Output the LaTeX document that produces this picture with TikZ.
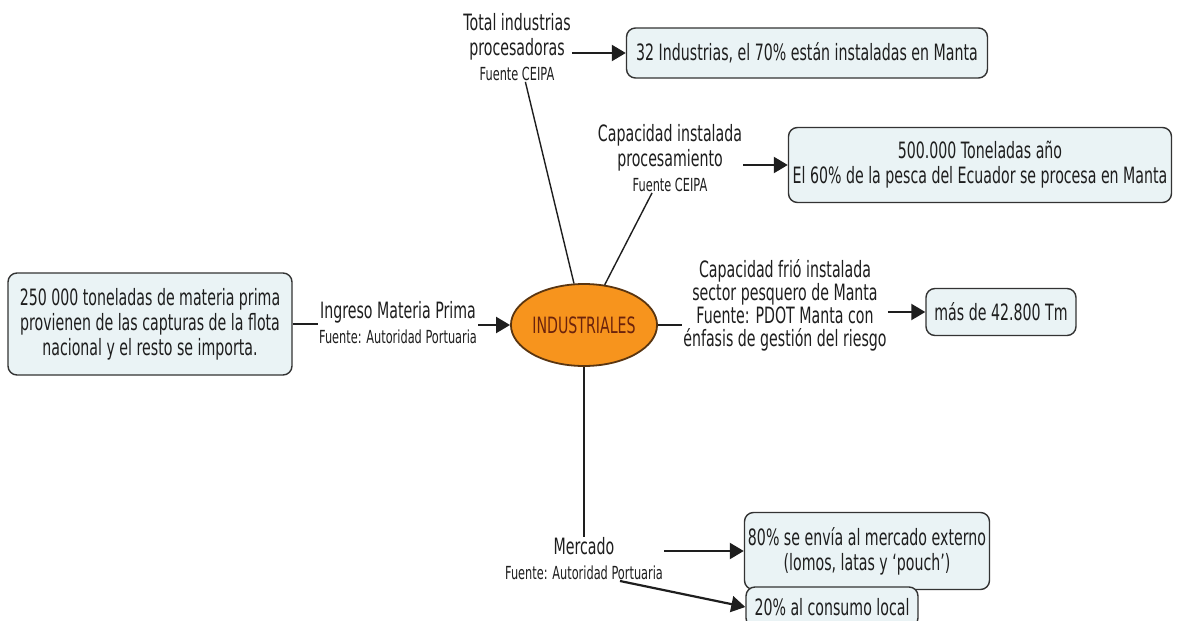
\documentclass[tikz,border=0pt]{standalone}
\usepackage{fontspec}
\setmainfont{DejaVu Sans}[FakeStretch=0.63]
\usetikzlibrary{arrows.meta,shapes.geometric}
\definecolor{boxfill}{HTML}{EAF3F5}
\definecolor{boxline}{HTML}{333333}
\definecolor{txt}{HTML}{1E1E1E}
\definecolor{orangefill}{HTML}{F7941D}
\definecolor{orangeline}{HTML}{5A3510}
\definecolor{indtxt}{HTML}{6B230C}
\newcommand\mainf{\fontsize{22.5}{25}\selectfont}
\newcommand\friof{\fontsize{22.5}{23}\selectfont}
\newcommand\smallf{\fontsize{18}{20}\selectfont}
\begin{document}
\begin{tikzpicture}[x=1pt,y=-1pt,
  box/.style={draw=boxline,line width=1.4pt,fill=boxfill,rounded corners=9pt,
    align=center,font=\mainf,text=txt,inner sep=0pt},
  lbl/.style={align=center,font=\mainf,inner sep=1pt,text=txt},
  con/.style={line width=1.4pt,draw=txt},
  arr/.style={line width=2.2pt,draw=txt,-{Triangle[length=14pt,width=16pt]}}]
\useasboundingbox (0,0) rectangle (1179,621);
\fill[white] (0,0) rectangle (1179,621);

% central concept
\node[ellipse,draw=orangeline,line width=1.8pt,fill=orangefill,
  minimum width=126pt,minimum height=82pt,inner sep=0pt,
  font=\mainf,text=indtxt] (E) at (584,325) {INDUSTRIALES};

% left box and label
\node[box,minimum width=284pt,minimum height=102pt] (L) at (150,324)
  {250 000 toneladas de materia prima\\provienen de las capturas de la flota\\nacional y el resto se importa.};
\node[lbl] (ing) at (398,323) {Ingreso Materia Prima\\{\smallf Fuente: Autoridad Portuaria}};

% top label and box
\node[lbl] (tot) at (517,47) {Total industrias\\procesadoras\\{\smallf Fuente CEIPA}};
\node[box,minimum width=361pt,minimum height=50pt] (B1) at (807,53)
  {32 Industrias, el 70\% están instaladas en Manta};

% capacidad instalada
\node[lbl] (cap) at (670,158) {Capacidad instalada\\procesamiento\\{\smallf Fuente CEIPA}};
\node[box,minimum width=383pt,minimum height=75pt] (B2) at (980,165)
  {500.000 Toneladas año\\El 60\% de la pesca del Ecuador se procesa en Manta};

% capacidad frio
\node[lbl,font=\friof] (frio) at (785,305) {Capacidad frió instalada\\sector pesquero de Manta\\Fuente: PDOT Manta con\\énfasis de gestión del riesgo};
\node[box,minimum width=150pt,minimum height=47pt] (B3) at (1001,312) {más de 42.800 Tm};

% mercado
\node[lbl] (mer) at (584,559) {Mercado\\{\smallf Fuente: Autoridad Portuaria}};
\node[box,minimum width=245pt,minimum height=77pt] (B4) at (867,551)
  {80\% se envía al mercado externo\\(lomos, latas y ‘pouch’)};
\node[box,minimum width=172pt,minimum height=40pt] (B5) at (832,607) {20\% al consumo local};
\coordinate (m5) at (620,581);

% connectors
\draw[con] (L.east) -- (ing.west |- L.east);
\draw[arr] (ing.east |- E.west) -- (E.west);
\draw[con] (E) -- (tot);
\draw[con] (E) -- (cap);
\draw[con] (E.east) -- (frio.west |- E.east);
\draw[con] (E) -- (mer);
\draw[arr] (tot.east |- B1.west) -- (B1.west);
\draw[arr] (cap.east |- B2.west) -- (B2.west);
\draw[arr] (frio.east |- B3.west) -- (B3.west);
\draw[arr] (mer.east |- B4.west) -- (B4.west);
\draw[arr] (m5) -- (B5.west);
\end{tikzpicture}
\end{document}
